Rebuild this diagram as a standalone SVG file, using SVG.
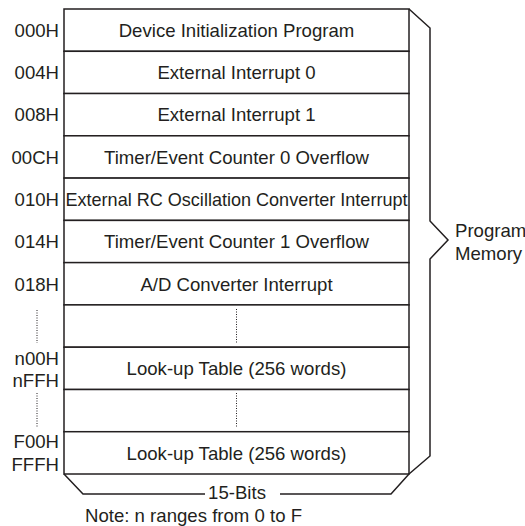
<svg xmlns="http://www.w3.org/2000/svg" width="525" height="526" viewBox="0 0 525 526">
<style>
text{font-family:"Liberation Sans",Arial,sans-serif;font-size:18.6px;fill:#231f20}
.c{text-anchor:middle}
.a{text-anchor:end}
.box{fill:#fff;stroke:#231f20;stroke-width:1.5}
.ln{fill:none;stroke:#231f20;stroke-width:1.5}
.dot{fill:none;stroke:#231f20;stroke-width:1;stroke-dasharray:1 1.5}
</style>
<rect width="525" height="526" fill="#fff"/>
<g id="row0"><rect class="box" x="64" y="9" width="345" height="42.3"/><text class="c" x="236.5" y="36.8">Device Initialization Program</text><text class="a" x="59" y="36.8">000H</text></g>
<g id="row1"><rect class="box" x="64" y="51.3" width="345" height="42.3"/><text class="c" x="236.5" y="79.1">External Interrupt 0</text><text class="a" x="59" y="79.1">004H</text></g>
<g id="row2"><rect class="box" x="64" y="93.5" width="345" height="42.3"/><text class="c" x="236.5" y="121.4">External Interrupt 1</text><text class="a" x="59" y="121.4">008H</text></g>
<g id="row3"><rect class="box" x="64" y="135.8" width="345" height="42.3"/><text class="c" x="236.5" y="163.7">Timer/Event Counter 0 Overflow</text><text class="a" x="59" y="163.7">00CH</text></g>
<g id="row4"><rect class="box" x="64" y="178.1" width="345" height="42.3"/><text class="c" x="236.5" y="205.9" textLength="342" lengthAdjust="spacingAndGlyphs">External RC Oscillation Converter Interrupt</text><text class="a" x="59" y="205.9">010H</text></g>
<g id="row5"><rect class="box" x="64" y="220.4" width="345" height="42.3"/><text class="c" x="236.5" y="248.2">Timer/Event Counter 1 Overflow</text><text class="a" x="59" y="248.2">014H</text></g>
<g id="row6"><rect class="box" x="64" y="262.6" width="345" height="42.3"/><text class="c" x="236.5" y="290.5">A/D Converter Interrupt</text><text class="a" x="59" y="290.5">018H</text></g>
<g id="row7"><rect class="box" x="64" y="304.9" width="345" height="42.3"/><line class="dot" x1="236.5" y1="309" x2="236.5" y2="344"/><line class="dot" x1="37" y1="310" x2="37" y2="343"/></g>
<g id="row8"><rect class="box" x="64" y="347.2" width="345" height="42.3"/><text class="c" x="236.5" y="375">Look-up Table (256 words)</text><text class="a" x="59" y="364.5">n00H</text><text class="a" x="59" y="386.5">nFFH</text></g>
<g id="row9"><rect class="box" x="64" y="389.5" width="345" height="42.3"/><line class="dot" x1="236.5" y1="393" x2="236.5" y2="428"/><line class="dot" x1="37" y1="393" x2="37" y2="428"/></g>
<g id="row10"><rect class="box" x="64" y="431.7" width="345" height="42.3"/><text class="c" x="236.5" y="459.6">Look-up Table (256 words)</text><text class="a" x="59" y="448">F00H</text><text class="a" x="59" y="470.5">FFFH</text></g>
<g id="connectors">
<polyline class="ln" points="409,9 430,28 430,221 448,240 430,259 430,456 409,474"/>
<polyline class="ln" points="64,474 83,494 205,494"/>
<polyline class="ln" points="280,494 391,494 409,474"/>
</g>
<g id="program-memory"><text x="455" y="237">Program</text><text x="455" y="259.5">Memory</text></g>
<g id="width-label"><text class="c" x="237" y="499">15-Bits</text></g>
<g id="note"><text x="85" y="521.5">Note: n ranges from 0 to F</text></g>
</svg>
